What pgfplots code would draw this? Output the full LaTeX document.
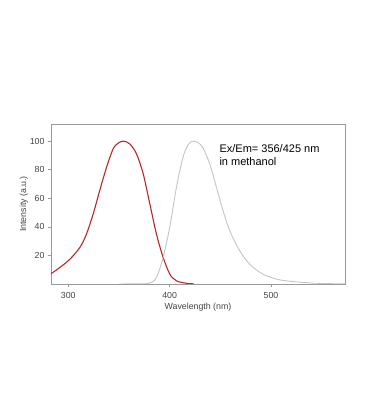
\documentclass[border=0pt]{standalone}
\usepackage{pgfplots}
\pgfplotsset{compat=1.18}
\usepackage{fontspec}
\setmainfont{Liberation Sans}
\definecolor{exred}{HTML}{B8282A}
\definecolor{emgray}{HTML}{C4C4C4}
\definecolor{txt}{HTML}{444444}
\definecolor{frame}{HTML}{9A9A9A}
\begin{document}
\begin{tikzpicture}[x=1pt,y=1pt]
\useasboundingbox (-51,-136) rectangle (319,284);
\begin{axis}[
  at={(0,0)}, anchor=south west,
  scale only axis, width=294pt, height=160pt,
  xmin=283, xmax=573, ymin=0, ymax=112,
  xtick={300,400,500}, ytick={20,40,60,80,100},
  axis line style={frame, line width=0.6pt},
  tick style={frame, line width=0.6pt},
  tick align=outside, major tick length=3pt,
  xtick pos=bottom, ytick pos=left,
  ticklabel style={font=\fontsize{8.8}{9}\selectfont, text=txt},
  xticklabel style={yshift=-1.5pt},
  /pgf/number format/assume math mode=true,
  xlabel={Wavelength (nm)}, ylabel={Intensity (a.u.)},
  label style={font=\fontsize{8.8}{9}\selectfont, text=txt},
  xlabel style={yshift=2pt}, ylabel style={yshift=-5pt},
  clip=true,
]
\addplot[exred, line width=1.1pt, smooth, tension=0.5] coordinates {
(283,7.2) (291.8,11.6) (301.7,17.4) (311.5,25.6) (318,35) (324.6,49) (331,65.3) (337.8,81.7) (344.3,94.6) (349.3,98.6) (354.5,100) (360.8,98) (367.4,91) (374,77) (380.5,56) (387,35) (393.6,18.6) (400.2,6.9) (406.8,2.2) (416.6,0.5) (424,0.1)};
\addplot[emgray, line width=0.9pt, smooth, tension=0.5] coordinates {
(350,0) (365,0.1) (374,0.2) (380.5,0.6) (387,4.5) (393.6,18.6) (400.2,40) (406.8,68) (413.3,89) (418.5,97.8) (423,100) (428,99) (433,95.3) (439.6,84) (446.2,67.7) (452.7,51.3) (459.3,37.3) (469.2,23.2) (479,13.9) (492,6.9) (508.6,2.9) (528.3,1.3) (548,0.4) (573,0.1)};
\end{axis}
\node[anchor=west, text=black, font=\fontsize{11}{13}\selectfont, align=left] at (165,129) {Ex/Em= 356/425 nm\\in methanol};
\end{tikzpicture}
\end{document}
